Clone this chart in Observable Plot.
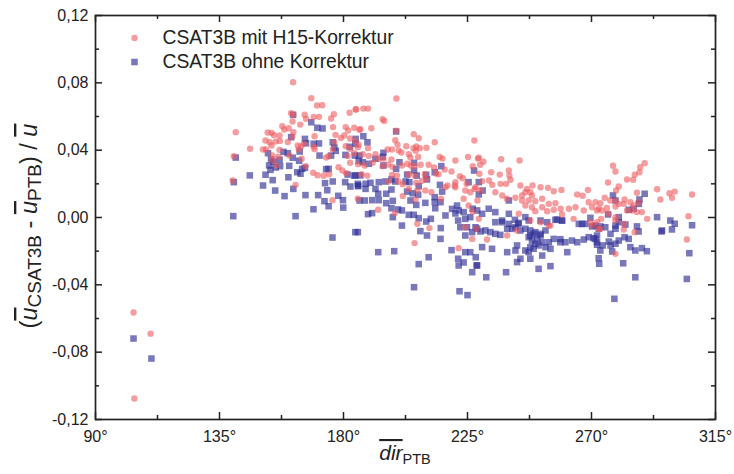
<!DOCTYPE html>
<html><head><meta charset="utf-8">
<script src="https://cdn.jsdelivr.net/npm/d3@7"></script>
<script src="https://cdn.jsdelivr.net/npm/@observablehq/plot@0.6"></script>
<style>body{margin:0;background:#fff}</style>
</head><body><div id="chart"></div>
<script>
// Series 1: CSAT3B mit H15-Korrektur (circles)
const pinkDir = [
103.8,110,104.1,
140.9,140.2,139.8,146.1,
161.7,168.3,170.4,172.3,161.0,161.8,165.9,169.2,171.1,175.5,176.5,184.4,182.2,166.4,161.5,164.3,
152.5,153.9,154.8,156.8,157.8,158.5,160.1,161.8,161.4,169.5,
176.2,177.1,180.8,181.7,183.9,185.8,180.3,179.1,182.4,184.3,
151.7,153.2,155.4,156.9,159.8,153.9,156.8,151.9,150.8,
163.4,164.6,165.6,163.8,169.2,169.5,176.7,176.1,174.6,173.7,
180.8,182.5,185.2,183.9,181.5,182.4,
154.1,156.3,160.4,164.8,166.3,169,170.6,172.8,174.8,
178.2,179.6,181,155.7,154.5,162.6,176,185.2,
199.2,184.6,187.2,188.9,194.2,194.8,186.1,190.1,199.1,205.5,207.3,213.1,227.5,
185.5,188.9,198.8,199.6,196,197.6,200,201,202.8,205.4,206.4,207.7,210.1,
187,189.2,191.6,192.8,194.5,197.4,203.7,204.3,207.1,206.2,214.9,215.9,220.6,225.2,228.8,
185.3,187.7,190.6,194.2,196.2,197.8,201.2,203.2,204.4,205.8,208,210.9,212.9,214.5,216.7,219.2,222.2,223.3,226.9,229.3,
186.5,188.6,197.6,199.4,203.7,205.8,209.5,213.6,196.4,200,201.5,206.4,208.5,210,217.7,220.4,220.6,224.7,
192.6,198.6,201.5,203.7,206.1,206.8,209.7,211.9,215.4,206.8,211.2,205.8,221.8,
217,220.6,224.2,226,227.6,223.6,225.4,226.9,229.1,224.2,226.7,228.2,228.6,
229.1,230.8,229.6,237.2,243.9,
233.6,236.7,240,240.2,240.6,239,237,234,232.8,230.3,227.9,229.7,
244.2,246.6,247.8,246,244.8,248.4,248.6,251.5,254.2,256.3,259.1,264.8,266.8,268.7,
235.1,237.6,239.3,242.4,244.8,247.2,249.6,252.1,254.5,256.9,258.8,261.8,264.2,267.2,269,271.4,270.2,272.6,
246,248.4,249.6,252.1,253.9,256.3,259.3,263.5,269.6,254.5,243.6,
232.1,239.4,247.8,251.5,255.1,270.2,272.6,243,
289.3,287.7,287.4,285.7,285.1,282.9,277.8,278.7,276,279.9,278.9,286.5,293.8,295,298.3,300.2,299.2,306.5,
273.2,274.8,276.8,278.7,279.9,282,281.7,284.1,285.3,287.1,288.3,290.2,305.2,
272,273.8,275.6,276.2,278.7,282.9,284.7,286.5,273.5,272,278.7,281.7,
281.7,285.7,278.7,304.6,273.2,278.7
];
const pinkDev = [
-0.0564,-0.069,-0.1075,
0.0507,0.0364,0.022,0.0408,
0.0804,0.0709,0.0665,0.0667,0.062,0.061,0.061,0.0598,0.0598,0.0588,0.0614,0.0643,0.0622,0.0586,0.057,0.0552,
0.0505,0.0503,0.0489,0.0487,0.0542,0.0523,0.053,0.0507,0.0481,0.0483,
0.0537,0.0491,0.0537,0.0517,0.0533,0.0521,0.0487,0.0473,0.0469,0.0455,
0.0457,0.0447,0.0451,0.0455,0.0449,0.0428,0.0402,0.0404,0.0404,
0.0428,0.0422,0.0438,0.0404,0.042,0.0406,0.0447,0.0404,0.0364,0.0356,
0.0424,0.0408,0.0418,0.0382,0.0366,0.0325,
0.0368,0.0361,0.0368,0.0349,0.0305,0.0266,0.0251,0.0248,0.0257,
0.0299,0.0279,0.0263,0.0309,0.0339,0.0194,0.0103,0.0111,
0.0707,0.0642,0.0647,0.0647,0.0584,0.0574,0.0525,0.053,0.0515,0.0495,0.0471,0.0447,0.0457,
0.0433,0.0412,0.0459,0.0433,0.0404,0.0404,0.0398,0.0386,0.0424,0.0412,0.0422,0.0412,0.0414,
0.0376,0.0366,0.0376,0.0347,0.0349,0.0345,0.0376,0.0356,0.036,0.0396,0.036,0.035,0.0339,0.036,0.035,
0.0317,0.0309,0.0325,0.0305,0.0315,0.0301,0.0309,0.0319,0.0309,0.0305,0.0313,0.0313,0.0297,0.0257,0.0285,0.0273,0.0245,0.0233,0.0305,0.026,
0.0257,0.0249,0.0253,0.0249,0.0257,0.0249,0.0257,0.0261,0.0214,0.0214,0.0198,0.0206,0.0218,0.023,0.019,0.019,0.021,0.02,
0.0046,0.0026,0.0127,0.017,0.0107,0.016,0.016,0.015,0.0111,-0.0037,-0.0063,-0.0152,-0.0182,
0.018,0.018,0.016,0.015,0.017,0.0111,0.0071,0.0036,-0.0008,-0.0058,-0.0127,-0.0067,0.0101,
0.0355,0.0331,0.0313,0.0346,0.0339,
0.0269,0.0255,0.0279,0.0249,0.0224,0.02,0.02,0.0194,0.022,0.0216,0.018,0.016,
0.019,0.017,0.015,0.015,0.0131,0.0131,0.019,0.018,0.0176,0.0156,0.0164,0.0137,0.0129,0.0164,
0.015,0.0131,0.0111,0.0117,0.0101,0.0101,0.0097,0.0111,0.0081,0.0085,0.0052,0.0052,0.0061,0.0042,0.0091,0.0091,0.0061,0.0052,
0.0071,0.0061,0.0037,0.0061,0.0037,0.0046,0.0018,-0.0008,-0.0028,-0.0048,0.0022,
-0.0131,-0.0107,-0.0018,-0.0028,-0.0048,-0.0048,-0.0067,-0.0077,
0.0323,0.0299,0.0269,0.0254,0.0224,0.0226,0.0307,0.0273,0.0208,0.0184,0.016,0.0147,0.0168,0.0107,0.0144,0.0154,0.0117,0.0137,
0.0085,0.0117,0.0101,0.0101,0.0081,0.0107,0.0081,0.0091,0.0071,0.0091,0.0032,-0.0008,0.0008,
0.0042,0.0042,0.0057,0.0022,0.0065,0.0042,0.0042,0.0032,-0.0008,-0.0028,-0.0018,-0.0037,
-0.0071,-0.0087,-0.0216,-0.0131,-0.0067,0.0002
];
// Series 2: CSAT3B ohne Korrektur (squares)
const blueDir = [
103.8,110.3,
161.7,168.3,170.5,172.4,184.4,182.2,161,166,166.4,169.2,171.1,171.3,176.1,176.7,177.2,175.5,180.7,184.1,185.5,140.9,
152.6,153.7,154.6,156.8,157,155.4,153,153.5,158.2,159.8,161.6,164.1,163.9,
160.3,163.2,165,166,164.4,146,151.7,154.3,150.8,160,140.2,
173.7,174.6,176.1,173.3,180.6,181.5,183.9,185.2,155.2,161.8,
158.6,166.2,170.8,174.1,173.1,178.1,179.8,174.6,179.9,169.1,182.5,185.3,140,162.6,176,185.2,
199.1,187.2,188.7,184.3,194.5,194.2,185.8,189.2,187,191.6,194.5,200.3,199.1,203.1,205.6,205.6,206.6,210,213.1,215.5,227.4,
184.3,186.1,188,189.8,192.8,195.2,197.4,198.8,202.5,203.9,207.3,210.3,215,225.4,229.1,
185.3,188,191.6,192.6,195.5,197.4,203.1,205.1,207.1,213.1,215.8,
185.8,187.7,190.4,192.8,195.5,197.9,204.3,206.4,209.7,213.1,213.3,215.2,219.4,220.6,
188.9,190.4,197.4,197.9,199.8,201.2,203.7,205.5,207.3,210,211.7,217,
184.3,201.2,207.9,210.3,215.3,215.2,192.6,198.4,210.9,207.3,205.6,219.2,221.6,226.7,222.1,225,
221.2,221.8,223.6,224.2,226,226.9,221.6,222.4,224.2,224.8,226.7,227.9,224.2,226,228,221.8,228.3,223.6,
230.5,229.1,240,228.5,230.3,232.7,235.1,237.5,240,242.2,243.4,246,247.2,251.5,253.9,256.9,259.3,266.6,269.6,270.2,
228.5,229.7,231.5,233.3,235.1,236.9,239.4,241.2,242.4,244.2,246,247.8,249.6,251.5,253.3,256.3,258.7,260.5,262.9,264.8,267.2,269,270.8,272,272,274.1,265.4,267.8,271.4,272.6,235.1,237.6,240,243.6,257.5,259.3,
247.2,248.4,249.6,247.8,249,250.8,252.1,250.3,253.3,254.5,247.2,246,255.1,247.8,249,251.5,
230.3,233.9,239.4,243,242.4,244.2,243,247.8,252.1,250.8,255.1,258.7,261.2,228.5,231.8,239,
289.3,277.8,278.7,287.4,287.2,279.9,276,285.3,283.5,293.8,282.3,286.5,295.6,298.6,300.2,306.5,273.2,275,278.7,
287.1,290.1,288.3,285.9,284.1,283.5,282,279.9,278.7,276.3,276.9,277.5,273.2,272.6,272.8,272,271.4,276.9,279.9,278.7,295.4,299.2,281.5,285.9,304.6,305.5,278.3
];
const blueDev = [
-0.0719,-0.0838,
0.061,0.0566,0.0533,0.0529,0.0467,0.042,0.0477,0.0467,0.0441,0.0438,0.044,0.0368,0.0447,0.0416,0.0396,0.0368,0.0372,0.0368,0.0337,0.0356,
0.0382,0.0345,0.0331,0.0343,0.0305,0.0297,0.0309,0.0283,0.039,0.0382,0.0355,0.0392,0.0337,
0.0307,0.0269,0.0289,0.0295,0.026,0.025,0.0254,0.0222,0.019,0.0239,0.021,
0.0287,0.0289,0.0214,0.0204,0.021,0.0255,0.0249,0.02,0.016,0.017,
0.0127,0.0133,0.0133,0.0162,0.0097,0.0129,0.0103,0.0067,0.0059,0.0049,0.0184,0.0186,0.0008,0.0008,-0.0119,-0.0087,
0.0511,0.0483,0.0447,0.0437,0.0384,0.036,0.0368,0.0319,0.0328,0.0349,0.0309,0.0328,0.0289,0.0255,0.0279,0.0325,0.0249,0.0254,0.0269,0.0305,0.0279,
0.025,0.025,0.02,0.0206,0.021,0.0214,0.0226,0.0214,0.0214,0.021,0.0186,0.0226,0.0194,0.021,0.021,
0.019,0.017,0.017,0.0141,0.0141,0.0166,0.0154,0.0144,0.0135,0.0121,0.0154,
0.0101,0.0101,0.0103,0.0103,0.0085,0.0099,0.0101,0.0075,0.0087,0.0091,0.0055,0.0091,0.0051,0.0024,
0.002,0.0026,0.0055,0.0002,0.0048,0.0042,0.0016,0.0016,-0.0004,-0.0024,-0.0008,0.0012,
-0.0087,-0.0048,-0.0081,-0.0107,-0.0063,-0.0127,-0.0206,-0.02,-0.0236,-0.0277,-0.0414,-0.0194,-0.0245,-0.0325,-0.0438,-0.0461,
0.0071,0.0042,0.0032,-0.0008,0.0002,0.0052,-0.0018,-0.0058,-0.0107,-0.0058,-0.0087,-0.0058,-0.0206,-0.0206,-0.0236,-0.0285,-0.0285,-0.0267,
0.016,0.0137,0.0101,0.0042,0.0022,0.0052,0.0032,-0.0018,0.0022,-0.0014,-0.0038,0.0002,-0.0018,-0.0018,-0.0028,-0.0014,-0.0018,-0.0038,-0.0002,-0.0053,
-0.0067,-0.0083,-0.0077,-0.0087,-0.0097,-0.0103,-0.0067,-0.0067,-0.0058,-0.0077,-0.0067,-0.0077,-0.0087,-0.0097,-0.0077,-0.0127,-0.0129,-0.0147,-0.0137,-0.0147,-0.0131,-0.0117,-0.0123,-0.0107,-0.0147,-0.0166,-0.0038,-0.0038,-0.0048,-0.0067,-0.0028,-0.0028,-0.0038,-0.0032,-0.0012,-0.0018,
-0.0117,-0.0137,-0.0156,-0.0176,-0.0186,-0.0166,-0.0147,-0.0127,-0.0176,-0.0147,-0.0206,-0.0196,-0.0186,-0.0107,-0.0097,-0.0107,
-0.0176,-0.0186,-0.0206,-0.0166,-0.0196,-0.0245,-0.0265,-0.0245,-0.0226,-0.0305,-0.0289,-0.0147,-0.0206,-0.0285,-0.0355,-0.0325,
0.0141,0.0131,0.0101,0.0107,0.0081,0.0002,0.0018,0.0052,0.0046,0.0002,-0.0042,-0.0053,-0.0077,-0.0018,-0.0037,-0.0046,-0.0053,-0.0058,-0.0048,
-0.0083,-0.02,-0.0182,-0.0196,-0.0176,-0.0127,-0.0117,-0.0137,-0.0156,-0.0143,-0.0166,-0.0202,-0.0196,-0.0242,-0.0275,-0.0162,-0.0127,-0.0097,-0.0028,-0.0067,-0.0083,-0.0071,-0.0272,-0.0355,-0.0365,-0.0212,-0.0483
];
const seriesNames = ["CSAT3B mit H15-Korrektur", "CSAT3B ohne Korrektur"];
const xTicks = [90, 135, 180, 225, 270, 315];
const xMinor = [112.5, 157.5, 202.5, 247.5, 292.5];
const yTicks = [-0.12, -0.08, -0.04, 0, 0.04, 0.08, 0.12];
const yMinor = [-0.1, -0.06, -0.02, 0.02, 0.06, 0.1];

if (pinkDir.length !== pinkDev.length) throw new Error("pink mismatch " + pinkDir.length + " " + pinkDev.length);
if (blueDir.length !== blueDev.length) throw new Error("blue mismatch " + blueDir.length + " " + blueDev.length);

const pink = pinkDir.map((d, i) => ({dir: d, dev: pinkDev[i]}));
const blue = blueDir.map((d, i) => ({dir: d, dev: blueDev[i]}));

const PINK = "#ee5a5f", BLUE = "#2f2f96", INK = "#222";
const font = "'Liberation Sans', Arial, Helvetica, sans-serif";
const fmtY = d => (d < 0 ? "-" : "") + Math.abs(d).toFixed(2).replace(".", ",");
const fmtX = d => d + "°";

const W = 734, H = 474, ML = 95, MR = 19, MT = 15, MB = 55;
const xDom = [90, 315], yDom = [-0.12, 0.12];
// tick lengths (px) converted to data units so the ticks point inward
const xPerPx = (xDom[1] - xDom[0]) / (W - ML - MR);
const yPerPx = (yDom[1] - yDom[0]) / (H - MT - MB);
const MAJ = 7, MIN = 4;
const tickStyle = {stroke: INK, strokeWidth: 1.5};
const xTickRules = (ticks, len) => [
  Plot.ruleX(ticks, {x: d => d, y1: yDom[0], y2: yDom[0] + len * yPerPx, ...tickStyle}),
  Plot.ruleX(ticks, {x: d => d, y1: yDom[1], y2: yDom[1] - len * yPerPx, ...tickStyle})
];
const yTickRules = (ticks, len) => [
  Plot.ruleY(ticks, {y: d => d, x1: xDom[0], x2: xDom[0] + len * xPerPx, ...tickStyle}),
  Plot.ruleY(ticks, {y: d => d, x1: xDom[1], x2: xDom[1] - len * xPerPx, ...tickStyle})
];

const chart = Plot.plot({
  width: W, height: H, marginLeft: ML, marginRight: MR, marginTop: MT, marginBottom: MB,
  style: {fontFamily: font, background: "#fff", color: INK},
  x: {domain: xDom},
  y: {domain: yDom},
  marks: [
    Plot.dot(blue, {x: "dir", y: "dev", symbol: "square", r: 3.7, fill: BLUE, fillOpacity: 0.65}),
    Plot.dot(pink, {x: "dir", y: "dev", r: 3.2, fill: PINK, fillOpacity: 0.6}),
    Plot.axisX(xTicks, {anchor: "bottom", tickSize: 0, tickPadding: 11, tickFormat: fmtX, fontSize: 16, color: INK, label: null}),
    Plot.axisY(yTicks, {anchor: "left", tickSize: 0, tickPadding: 7, tickFormat: fmtY, fontSize: 16, color: INK, label: null}),
    ...xTickRules(xTicks, MAJ), ...xTickRules(xMinor, MIN),
    ...yTickRules(yTicks, MAJ), ...yTickRules(yMinor, MIN),
    Plot.frame({stroke: INK, strokeWidth: 1.7}),
    Plot.dot([seriesNames[0]], {frameAnchor: "top-left", dx: 39, dy: 22.5, r: 3.2, fill: PINK, fillOpacity: 0.6}),
    Plot.dot([seriesNames[1]], {frameAnchor: "top-left", dx: 39, dy: 46.5, symbol: "square", r: 3.7, fill: BLUE, fillOpacity: 0.65}),
    Plot.text([seriesNames[0]], {frameAnchor: "top-left", dx: 67, dy: 22.5, text: d => d, textAnchor: "start", lineAnchor: "middle", fontSize: 19.3, fill: INK}),
    Plot.text([seriesNames[1]], {frameAnchor: "top-left", dx: 67, dy: 46.5, text: d => d, textAnchor: "start", lineAnchor: "middle", fontSize: 19.3, fill: INK})
  ]
});
document.getElementById("chart").appendChild(chart);

// Axis titles with overlines and subscripts
const svg = d3.select(chart);
const cx = (ML + W - MR) / 2, cy = (MT + H - MB) / 2;
const xl = svg.append("text").attr("x", cx).attr("y", 460).attr("text-anchor", "middle")
  .attr("font-family", font).attr("font-size", 21).attr("fill", INK);
xl.append("tspan").attr("font-style", "italic").style("text-decoration", "overline").text("dir");
xl.append("tspan").attr("font-size", 14.5).attr("dy", 4).text("PTB");

const yl = svg.append("text").attr("transform", `translate(37,${cy + 9}) rotate(-90)`).attr("text-anchor", "middle")
  .attr("font-family", font).attr("font-size", 23.5).attr("fill", INK);
yl.append("tspan").text("(");
yl.append("tspan").attr("font-style", "italic").style("text-decoration", "overline").text("u");
yl.append("tspan").attr("font-size", 19).attr("dy", 4).text("CSAT3B");
yl.append("tspan").attr("dy", -4).text(" - ");
yl.append("tspan").attr("font-style", "italic").style("text-decoration", "overline").text("u");
yl.append("tspan").attr("font-size", 19).attr("dy", 4).text("PTB");
yl.append("tspan").attr("dy", -4).text(") / ");
yl.append("tspan").attr("font-style", "italic").style("text-decoration", "overline").text("u");
</script>
</body></html>
